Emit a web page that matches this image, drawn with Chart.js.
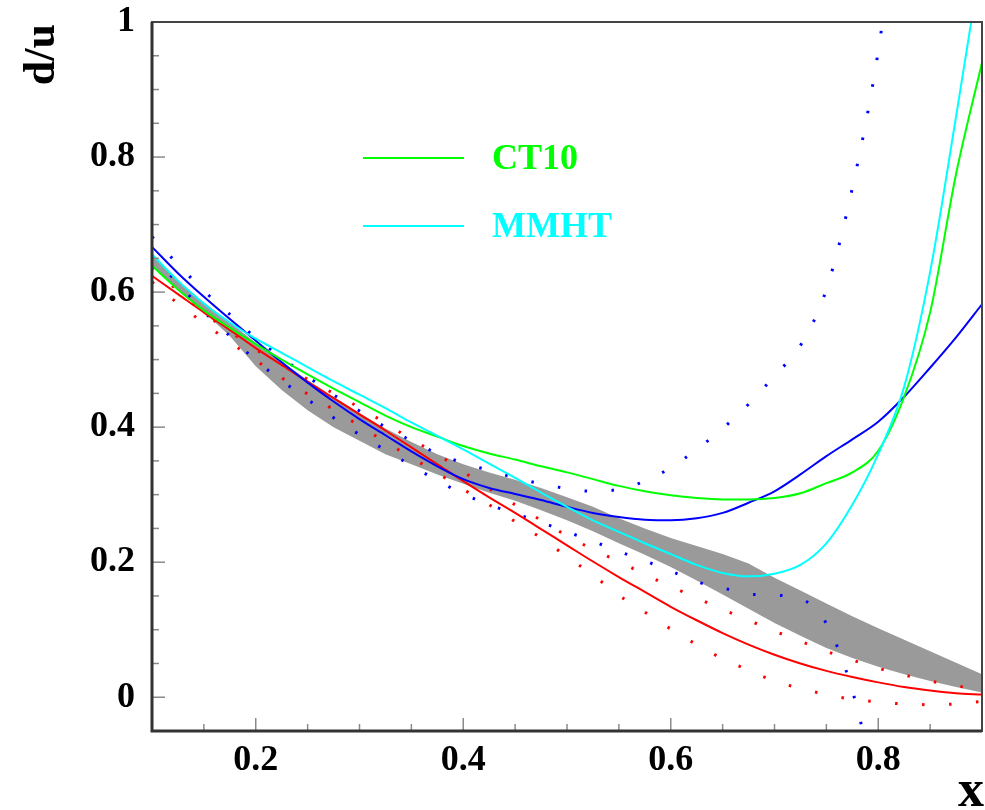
<!DOCTYPE html>
<html>
<head>
<meta charset="utf-8">
<script src="https://cdn.jsdelivr.net/npm/chart.js@4.4.0/dist/chart.umd.min.js"></script>
<style>
  html, body { margin: 0; padding: 0; background: #fff; }
  #wrap { width: 985px; height: 810px; }
</style>
</head>
<body>
<div id="wrap"><canvas id="chart" width="985" height="810"></canvas></div>
<script>
// x grid shared by every curve
const xs = [0.1, 0.125, 0.15, 0.175, 0.2, 0.225, 0.25, 0.275, 0.3, 0.325, 0.35, 0.375, 0.4,
  0.425, 0.45, 0.475, 0.5, 0.525, 0.55, 0.575, 0.6, 0.625, 0.65, 0.675, 0.7, 0.725, 0.75,
  0.775, 0.8, 0.825, 0.85, 0.875, 0.9];

// grey band (upper / lower edge)
const bandHi = [0.655, 0.617, 0.585, 0.555, 0.525, 0.497, 0.470, 0.445, 0.421, 0.398, 0.378, 0.360, 0.345,
  0.333, 0.322, 0.310, 0.296, 0.282, 0.265, 0.250, 0.236, 0.224, 0.212, 0.198, 0.177, 0.158, 0.139,
  0.120, 0.102, 0.085, 0.068, 0.051, 0.034];
const bandLo = [0.640, 0.603, 0.570, 0.535, 0.490, 0.455, 0.425, 0.400, 0.380, 0.360, 0.345, 0.330, 0.316,
  0.303, 0.291, 0.277, 0.262, 0.246, 0.228, 0.211, 0.193, 0.173, 0.152, 0.131, 0.110, 0.091, 0.073,
  0.058, 0.045, 0.034, 0.024, 0.015, 0.007];

// CT10 (green) and MMHT (cyan)
const ct10 = [0.639, 0.604, 0.573, 0.547, 0.523, 0.500, 0.478, 0.457, 0.437, 0.417, 0.400, 0.386, 0.372,
  0.361, 0.352, 0.342, 0.333, 0.323, 0.313, 0.305, 0.299, 0.295, 0.293, 0.293, 0.295, 0.302, 0.317,
  0.333, 0.365, 0.445, 0.570, 0.775, 0.940];
const mmht = [0.656, 0.617, 0.583, 0.555, 0.531, 0.510, 0.489, 0.468, 0.448, 0.428, 0.407, 0.387, 0.367,
  0.346, 0.325, 0.303, 0.282, 0.262, 0.245, 0.228, 0.212, 0.196, 0.184, 0.179, 0.183, 0.196, 0.228,
  0.285, 0.360, 0.460, 0.630, 0.860, 1.100];

// blue fit and its dotted error curves
const blueFit = [0.667, 0.628, 0.593, 0.560, 0.528, 0.496, 0.466, 0.438, 0.412, 0.388, 0.364, 0.342, 0.323,
  0.310, 0.301, 0.292, 0.282, 0.273, 0.267, 0.263, 0.262, 0.265, 0.273, 0.288, 0.305, 0.330, 0.357,
  0.382, 0.408, 0.445, 0.488, 0.533, 0.582];
const blueHi = [0.682, 0.641, 0.602, 0.567, 0.532, 0.503, 0.475, 0.448, 0.424, 0.400, 0.380, 0.361, 0.347,
  0.336, 0.325, 0.316, 0.309, 0.305, 0.308, 0.320, 0.340, 0.367, 0.398, 0.434, 0.476, 0.521, 0.604,
  0.754, 0.957, 1.250, null, null, null];
const blueLo = [0.654, 0.613, 0.571, 0.535, 0.499, 0.469, 0.441, 0.414, 0.389, 0.366, 0.343, 0.321, 0.301,
  0.285, 0.272, 0.259, 0.245, 0.231, 0.216, 0.202, 0.187, 0.171, 0.162, 0.153, 0.151, 0.146, 0.109,
  0.010, -0.150, null, null, null, null];

// red fit and its dotted error curves
const redFit = [0.624, 0.597, 0.570, 0.544, 0.517, 0.492, 0.467, 0.443, 0.419, 0.395, 0.370, 0.345, 0.320,
  0.296, 0.273, 0.249, 0.225, 0.201, 0.178, 0.156, 0.134, 0.114, 0.095, 0.078, 0.063, 0.050, 0.039,
  0.030, 0.022, 0.015, 0.010, 0.006, 0.004];
const redHi = [0.636, 0.602, 0.569, 0.542, 0.515, 0.493, 0.471, 0.450, 0.429, 0.406, 0.382, 0.360, 0.334,
  0.309, 0.285, 0.262, 0.239, 0.219, 0.201, 0.182, 0.164, 0.147, 0.130, 0.114, 0.098, 0.083, 0.068,
  0.055, 0.043, 0.033, 0.024, 0.017, 0.011];
const redLo = [0.615, 0.583, 0.554, 0.526, 0.499, 0.473, 0.449, 0.426, 0.402, 0.378, 0.355, 0.332, 0.308,
  0.285, 0.260, 0.236, 0.208, 0.181, 0.151, 0.126, 0.101, 0.078, 0.057, 0.040, 0.024, 0.013, 0.004,
  -0.003, -0.007, -0.010, -0.011, -0.010, -0.006];

// axes
const xTickVals = [0.2, 0.4, 0.6, 0.8];
const xTickLabels = ["0.2", "0.4", "0.6", "0.8"];
const yTickVals = [0, 0.2, 0.4, 0.6, 0.8, 1];
const yTickLabels = ["0", "0.2", "0.4", "0.6", "0.8", "1"];
const xMinor = [0.15, 0.2, 0.25, 0.3, 0.35, 0.4, 0.45, 0.5, 0.55, 0.6, 0.65, 0.7, 0.75, 0.8, 0.85];
const yMinor = [0, 0.05, 0.1, 0.15, 0.2, 0.25, 0.3, 0.35, 0.4, 0.45, 0.5, 0.55, 0.6, 0.65, 0.7, 0.75, 0.8, 0.85, 0.9, 0.95];

const pts = (arr) => xs.map((x, i) => ({ x: x, y: arr[i] }));
const SERIF = "'Liberation Serif', 'DejaVu Serif', serif";

const solid = (label, arr, color, order) => ({
  label: label, data: pts(arr), borderColor: color, borderWidth: 2,
  pointRadius: 0, fill: false, cubicInterpolationMode: "monotone", order: order,
});
const dotted = (label, arr, color) => ({
  label: label, data: pts(arr), borderColor: color, borderWidth: 3,
  borderDash: [2.5, 24.5], pointRadius: 0, fill: false, spanGaps: false,
  cubicInterpolationMode: "monotone", order: 5,
});

// no extra room for the end labels: the plot box is fixed
const noPad = (s) => { s.paddingTop = 0; s.paddingBottom = 0; s.paddingLeft = 0; s.paddingRight = 0; };

// frame, inward ticks, legend and axis titles
const decor = {
  id: "decor",
  afterDraw(chart) {
    const { ctx, chartArea: a, scales: { x, y } } = chart;
    ctx.save();
    // ticks
    ctx.strokeStyle = "#8a8a8a";
    ctx.lineWidth = 1.5;
    xMinor.forEach((v) => {
      const px = x.getPixelForValue(v);
      const len = xTickVals.includes(v) ? 13 : 7;
      ctx.beginPath(); ctx.moveTo(px, a.bottom); ctx.lineTo(px, a.bottom - len); ctx.stroke();
    });
    yMinor.forEach((v) => {
      const py = y.getPixelForValue(v);
      const len = yTickVals.includes(v) ? 13 : 7;
      ctx.beginPath(); ctx.moveTo(a.left, py); ctx.lineTo(a.left + len, py); ctx.stroke();
    });
    // frame
    ctx.strokeStyle = "#444";
    ctx.lineWidth = 2;
    ctx.strokeRect(a.left, a.top, a.right - a.left, a.bottom - a.top);
    ctx.lineWidth = 3;
    ctx.strokeStyle = "#333";
    ctx.beginPath(); ctx.moveTo(a.left, a.top); ctx.lineTo(a.left, a.bottom); ctx.lineTo(a.right, a.bottom); ctx.stroke();

    // legend
    ctx.lineWidth = 2;
    ctx.font = "bold 36px " + SERIF;
    ctx.textAlign = "left";
    ctx.textBaseline = "middle";
    [["CT10", "#00ff00", 158], ["MMHT", "#00ffff", 226]].forEach(([t, c, ly]) => {
      ctx.strokeStyle = c;
      ctx.beginPath(); ctx.moveTo(363, ly); ctx.lineTo(464, ly); ctx.stroke();
      ctx.fillStyle = c;
      ctx.fillText(t, 492, ly + 2);
    });

    // axis titles
    ctx.fillStyle = "#000";
    ctx.font = "bold 44px " + SERIF;
    ctx.save();
    ctx.translate(43, 24);
    ctx.rotate(-Math.PI / 2);
    ctx.textAlign = "right";
    ctx.textBaseline = "middle";
    ctx.fillText("d/u", 0, 0);
    ctx.restore();
    ctx.font = "bold 52px " + SERIF;
    ctx.textAlign = "right";
    ctx.textBaseline = "alphabetic";
    ctx.fillText("x", 984, 806);
    ctx.restore();
  },
};

new Chart(document.getElementById("chart"), {
  type: "line",
  data: {
    datasets: [
      { label: "band low", data: pts(bandLo), borderWidth: 0, pointRadius: 0, fill: false, order: 10 },
      { label: "band", data: pts(bandHi), borderWidth: 0, pointRadius: 0,
        backgroundColor: "rgb(154,154,154)", fill: 0, order: 9 },
      dotted("blue up", blueHi, "#0000ff"),
      dotted("blue down", blueLo, "#0000ff"),
      dotted("red up", redHi, "#ff0000"),
      dotted("red down", redLo, "#ff0000"),
      solid("red", redFit, "#ff0000", 3),
      solid("blue", blueFit, "#0000ff", 2),
      solid("CT10", ct10, "#00ff00", 1),
      solid("MMHT", mmht, "#00ffff", 0),
    ],
  },
  options: {
    responsive: false,
    animation: false,
    devicePixelRatio: 1,
    layout: { padding: { top: 22, right: 3, bottom: 0, left: 0 } },
    plugins: { legend: { display: false }, tooltip: { enabled: false } },
    scales: {
      x: {
        type: "linear", min: 0.1, max: 0.9,
        grid: { display: false, drawTicks: false },
        border: { display: false },
        afterBuildTicks: (s) => { s.ticks = xTickVals.map((v) => ({ value: v })); },
        afterFit: (s) => { s.height = 79; noPad(s); },
        ticks: {
          padding: 8, color: "#000",
          font: { family: SERIF, size: 36, weight: "bold" },
          callback: (v, i) => xTickLabels[i],
        },
      },
      y: {
        type: "linear", min: -0.05, max: 1,
        grid: { display: false, drawTicks: false },
        border: { display: false },
        afterBuildTicks: (s) => { s.ticks = yTickVals.map((v) => ({ value: v })); },
        afterFit: (s) => { s.width = 152; noPad(s); },
        ticks: {
          padding: 17, color: "#000",
          font: { family: SERIF, size: 36, weight: "bold" },
          callback: (v, i) => yTickLabels[i],
        },
      },
    },
  },
  plugins: [decor],
});
</script>
</body>
</html>
